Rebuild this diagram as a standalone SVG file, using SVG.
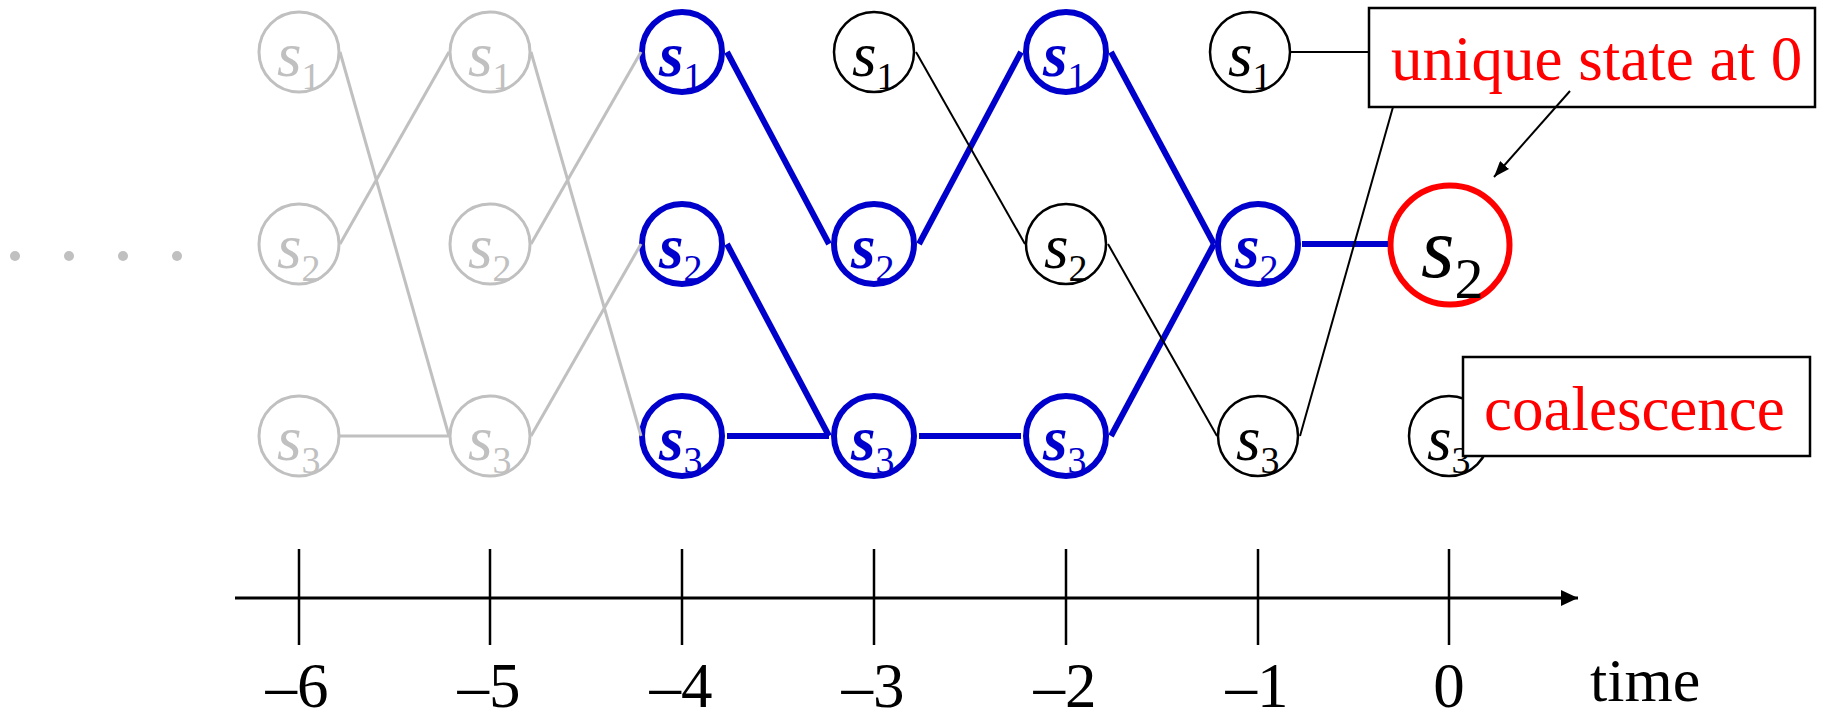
<svg xmlns="http://www.w3.org/2000/svg" width="1824" height="721" viewBox="0 0 1824 721">
<defs>
<marker id="ah" markerWidth="16" markerHeight="12" refX="16" refY="6" orient="auto" markerUnits="userSpaceOnUse">
<path d="M0,0 L16,6 L0,12 Z" fill="#000"/>
</marker>
<marker id="axh" markerWidth="17" markerHeight="16" refX="17" refY="8" orient="auto" markerUnits="userSpaceOnUse">
<path d="M0,0 L17,8 L0,16 Z" fill="#000"/>
</marker>
</defs>
<style>
text{font-family:"Liberation Serif","Times New Roman",serif;}
.g circle{fill:#fff;stroke:#C0C0C0;stroke-width:3;}
.g text{fill:#C0C0C0;}
.b circle{fill:#fff;stroke:#0000CC;stroke-width:6;}
.b text{fill:#0000CC;font-weight:bold;}
.k circle{fill:#fff;stroke:#000;stroke-width:2.5;}
.k text{fill:#000;}
.lbl{font-size:63px;font-style:italic;}
.sub{font-size:38px;font-style:normal;font-weight:normal;}
.eg{stroke:#C0C0C0;stroke-width:3;fill:none;}
.eb{stroke:#0000CC;stroke-width:6;fill:none;}
.ek{stroke:#000;stroke-width:2;fill:none;}
.box{fill:#fff;stroke:#000;stroke-width:2.5;}
.red{fill:#FF0000;font-size:63px;}
.ax{stroke:#000;stroke-width:3;}
.tk{stroke:#000;stroke-width:2.5;}
.axl{font-size:63px;text-anchor:middle;fill:#000;}
</style>
<rect width="1824" height="721" fill="#fff"/>

<g id="dots" fill="#C0C0C0">
<circle cx="15" cy="256" r="5"/><circle cx="69" cy="256" r="5"/><circle cx="123" cy="256" r="5"/><circle cx="177" cy="256" r="5"/>
</g>

<!-- time -6 (gray) -->
<g id="n-6-1" class="g"><circle cx="299" cy="52" r="40"/><text class="lbl" x="277" y="76">s<tspan class="sub" dy="13">1</tspan></text></g>
<g id="n-6-2" class="g"><circle cx="299" cy="244" r="40"/><text class="lbl" x="277" y="268">s<tspan class="sub" dy="13">2</tspan></text></g>
<g id="n-6-3" class="g"><circle cx="299" cy="436" r="40"/><text class="lbl" x="277" y="460">s<tspan class="sub" dy="13">3</tspan></text></g>
<!-- time -5 (gray) -->
<g id="n-5-1" class="g"><circle cx="490" cy="52" r="40"/><text class="lbl" x="468" y="76">s<tspan class="sub" dy="13">1</tspan></text></g>
<g id="n-5-2" class="g"><circle cx="490" cy="244" r="40"/><text class="lbl" x="468" y="268">s<tspan class="sub" dy="13">2</tspan></text></g>
<g id="n-5-3" class="g"><circle cx="490" cy="436" r="40"/><text class="lbl" x="468" y="460">s<tspan class="sub" dy="13">3</tspan></text></g>
<!-- time -4 (blue) -->
<g id="n-4-1" class="b"><circle cx="682" cy="52" r="40"/><text class="lbl" x="659" y="76">s<tspan class="sub" dy="13">1</tspan></text></g>
<g id="n-4-2" class="b"><circle cx="682" cy="244" r="40"/><text class="lbl" x="659" y="268">s<tspan class="sub" dy="13">2</tspan></text></g>
<g id="n-4-3" class="b"><circle cx="682" cy="436" r="40"/><text class="lbl" x="659" y="460">s<tspan class="sub" dy="13">3</tspan></text></g>
<!-- time -3 -->
<g id="n-3-1" class="k"><circle cx="874" cy="52" r="40"/><text class="lbl" x="852" y="76">s<tspan class="sub" dy="13">1</tspan></text></g>
<g id="n-3-2" class="b"><circle cx="874" cy="244" r="40"/><text class="lbl" x="851" y="268">s<tspan class="sub" dy="13">2</tspan></text></g>
<g id="n-3-3" class="b"><circle cx="874" cy="436" r="40"/><text class="lbl" x="851" y="460">s<tspan class="sub" dy="13">3</tspan></text></g>
<!-- time -2 -->
<g id="n-2-1" class="b"><circle cx="1066" cy="52" r="40"/><text class="lbl" x="1043" y="76">s<tspan class="sub" dy="13">1</tspan></text></g>
<g id="n-2-2" class="k"><circle cx="1066" cy="244" r="40"/><text class="lbl" x="1044" y="268">s<tspan class="sub" dy="13">2</tspan></text></g>
<g id="n-2-3" class="b"><circle cx="1066" cy="436" r="40"/><text class="lbl" x="1043" y="460">s<tspan class="sub" dy="13">3</tspan></text></g>
<!-- time -1 -->
<g id="n-1-1" class="k"><circle cx="1250" cy="52" r="40"/><text class="lbl" x="1228" y="76">s<tspan class="sub" dy="13">1</tspan></text></g>
<g id="n-1-2" class="b"><circle cx="1258" cy="244" r="40"/><text class="lbl" x="1235" y="268">s<tspan class="sub" dy="13">2</tspan></text></g>
<g id="n-1-3" class="k"><circle cx="1258" cy="436" r="40"/><text class="lbl" x="1236" y="460">s<tspan class="sub" dy="13">3</tspan></text></g>
<!-- time 0 -->
<g id="n0-2"><circle cx="1450" cy="245" r="59.5" fill="#fff" stroke="#FF0000" stroke-width="6"/><text x="1421" y="277" font-size="86" font-style="italic" fill="#000">s<tspan font-size="58" font-style="normal" dy="21">2</tspan></text></g>
<g id="n0-3" class="k"><circle cx="1449" cy="436" r="40"/><text class="lbl" x="1427" y="460">s<tspan class="sub" dy="13">3</tspan></text></g>

<g id="connectors">
<line class="eg" x1="340" y1="52" x2="449" y2="436"/>
<line class="eg" x1="340" y1="244" x2="449" y2="52"/>
<line class="eg" x1="340" y1="436" x2="449" y2="436"/>
<line class="eg" x1="531" y1="52" x2="641" y2="436"/>
<line class="eg" x1="531" y1="244" x2="641" y2="52"/>
<line class="eg" x1="531" y1="436" x2="641" y2="244"/>
<line class="eb" x1="727" y1="52" x2="829" y2="244"/>
<line class="eb" x1="727" y1="244" x2="829" y2="436"/>
<line class="eb" x1="727" y1="436" x2="829" y2="436"/>
<line class="eb" x1="919" y1="244" x2="1021" y2="52"/>
<line class="eb" x1="919" y1="436" x2="1021" y2="436"/>
<line class="eb" x1="1111" y1="52" x2="1214" y2="244"/>
<line class="eb" x1="1111" y1="436" x2="1214" y2="244"/>
<line class="eb" x1="1302" y1="244" x2="1388" y2="244"/>
<line class="ek" x1="916" y1="52" x2="1025" y2="244"/>
<line class="ek" x1="1108" y1="244" x2="1217" y2="436"/>
<line class="ek" x1="1291" y1="52" x2="1369" y2="52"/>
<line class="ek" x1="1300" y1="436" x2="1393" y2="107"/>
</g>

<g id="label-unique">
<rect class="box" x="1369" y="8" width="446" height="99"/>
<text class="red" x="1391" y="80">unique state at 0</text>
</g>
<g id="label-coalescence">
<rect class="box" x="1463" y="357" width="347" height="99"/>
<text class="red" x="1484" y="430">coalescence</text>
</g>
<g id="pointer">
<line class="ek" x1="1570" y1="91" x2="1494" y2="177" marker-end="url(#ah)"/>
</g>

<g id="axis">
<line class="ax" x1="235" y1="598" x2="1578" y2="598" marker-end="url(#axh)"/>
<line class="tk" x1="299" y1="549" x2="299" y2="645"/>
<line class="tk" x1="490" y1="549" x2="490" y2="645"/>
<line class="tk" x1="682" y1="549" x2="682" y2="645"/>
<line class="tk" x1="874" y1="549" x2="874" y2="645"/>
<line class="tk" x1="1066" y1="549" x2="1066" y2="645"/>
<line class="tk" x1="1258" y1="549" x2="1258" y2="645"/>
<line class="tk" x1="1449" y1="549" x2="1449" y2="645"/>
<text class="axl" x="297" y="707">–6</text>
<text class="axl" x="489" y="707">–5</text>
<text class="axl" x="681" y="707">–4</text>
<text class="axl" x="873" y="707">–3</text>
<text class="axl" x="1065" y="707">–2</text>
<text class="axl" x="1257" y="707">–1</text>
<text class="axl" x="1449" y="707">0</text>
<text x="1590" y="701" font-size="62" fill="#000">time</text>
</g>
</svg>
